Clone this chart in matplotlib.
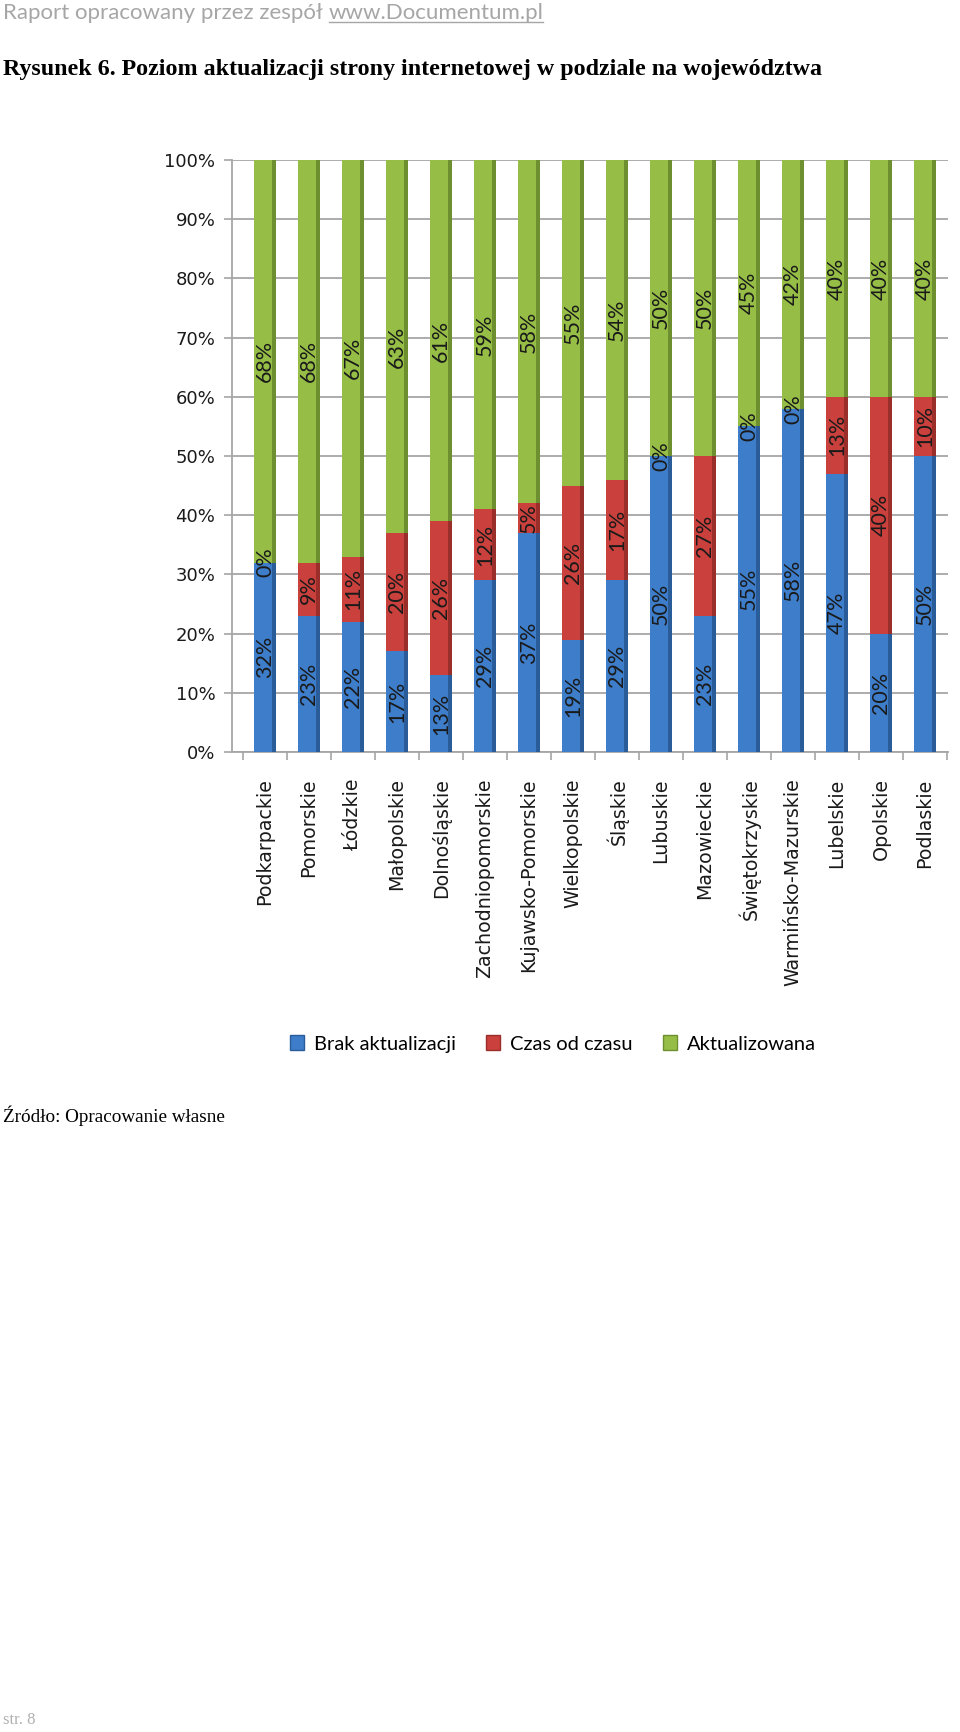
import numpy as np
import matplotlib
matplotlib.use('Agg')
import matplotlib.pyplot as plt
from matplotlib.patches import Patch
from matplotlib.lines import Line2D

regions = ['Podkarpackie', 'Pomorskie', 'Łódzkie', 'Małopolskie', 'Dolnośląskie',
           'Zachodniopomorskie', 'Kujawsko-Pomorskie', 'Wielkopolskie', 'Śląskie',
           'Lubuskie', 'Mazowieckie', 'Świętokrzyskie', 'Warmińsko-Mazurskie',
           'Lubelskie', 'Opolskie', 'Podlaskie']
brak = [32, 23, 22, 17, 13, 29, 37, 19, 29, 50, 23, 55, 58, 47, 20, 50]
czas = [0, 9, 11, 20, 26, 12, 5, 26, 17, 0, 27, 0, 0, 13, 40, 10]
aktual = [68, 68, 67, 63, 61, 59, 58, 55, 54, 50, 50, 45, 42, 40, 40, 40]
series_names = ['Brak aktualizacji', 'Czas od czasu', 'Aktualizowana']
y_ticks = [0, 10, 20, 30, 40, 50, 60, 70, 80, 90, 100]

face_colors = ['#3D7DCA', '#C9403C', '#96BE46']
side_colors = ['#2B5C9A', '#9A2E2B', '#6E8F30']
grid_color = '#A6A6A6'

W, H = 960, 1732
fig = plt.figure(figsize=(W / 100, H / 100), dpi=100)

# page header / title
t1 = fig.text(3 / W, 1 - 13 / H, 'Raport opracowany przez zespół ', color='#A6A6A6',
              fontsize=16, family='Lato', va='center', ha='left')
fig.text(3 / W, 1 - 70 / H, 'Rysunek 6. Poziom aktualizacji strony internetowej w podziale na województwa',
         fontsize=17.3, family='Liberation Serif', weight='bold', va='center', ha='left')
fig.text(3 / W, 1 - 1116 / H, 'Źródło: Opracowanie własne', fontsize=13.8,
         family='Liberation Serif', va='center', ha='left')
fig.text(3 / W, 1 - 1720 / H, 'str. 8', fontsize=12, color='#B0B0B0',
         family='Liberation Serif', va='center', ha='left')

ax = fig.add_axes([232 / W, 1 - 752 / H, (948 - 232) / W, (752 - 160) / H])
x = np.arange(len(regions))
face_w, side_w = 0.40, 0.10
bottoms = np.zeros(len(regions))
for vals, fc, sc in zip([brak, czas, aktual], face_colors, side_colors):
    vals = np.array(vals, dtype=float)
    ax.bar(x - side_w / 2, vals, face_w, bottom=bottoms, color=fc, zorder=3, linewidth=0)
    ax.bar(x + face_w / 2, vals, side_w, bottom=bottoms, color=sc, zorder=3, linewidth=0)
    for xi, b, v in zip(x, bottoms, vals):
        ax.text(xi, b + v / 2, '{:d}%'.format(int(v)), rotation=90, ha='center', va='center',
                fontsize=15.5, family='Lato', color='#1A1A1A', zorder=4)
    bottoms = bottoms + vals

ax.set_xlim(-0.75, 15.52)
ax.set_ylim(0, 100)
ax.set_yticks(y_ticks)
ax.set_yticklabels(['{}%'.format(v) for v in y_ticks])
ax.yaxis.grid(True, color=grid_color, linewidth=1.3, zorder=0)
ax.set_xticks(x)
ax.set_xticklabels(regions, rotation=90, va='top', ha='center')
ax.set_xticks(np.arange(len(regions) + 1) - 0.5, minor=True)
ax.tick_params(axis='x', which='major', length=0, pad=19, labelsize=13.7, labelcolor='#1A1A1A')
ax.tick_params(axis='x', which='minor', length=6, color=grid_color, width=1.2)
ax.tick_params(axis='y', length=6, color=grid_color, width=1.2, pad=6, labelsize=13,
               labelcolor='#1A1A1A')
for s in ['top', 'right']:
    ax.spines[s].set_visible(False)
for s in ['left', 'bottom']:
    ax.spines[s].set_color(grid_color)
    ax.spines[s].set_linewidth(1.3)

handles = [Patch(facecolor=c, edgecolor=sc) for c, sc in zip(face_colors, side_colors)]
fig.legend(handles, series_names, loc='center', bbox_to_anchor=(553 / W, 1 - 1044 / H), ncol=3,
           frameon=False, prop={'family': 'Lato', 'size': 14.5}, handlelength=0.7,
           handleheight=0.7, handletextpad=0.5, columnspacing=1.5)

# underlined link after the header text
fig.canvas.draw()
r = fig.canvas.get_renderer()
bb = t1.get_window_extent(r)
t2 = fig.text(bb.x1 / W, 1 - 13 / H, 'www.Documentum.pl', color='#A6A6A6',
              fontsize=16, family='Lato', va='center', ha='left')
bb2 = t2.get_window_extent(r)
fig.add_artist(Line2D([bb2.x0 / W, bb2.x1 / W], [(bb2.y0 + 1) / H] * 2,
                      color='#A6A6A6', linewidth=1, transform=fig.transFigure))

plt.savefig('out.png', dpi=100)
